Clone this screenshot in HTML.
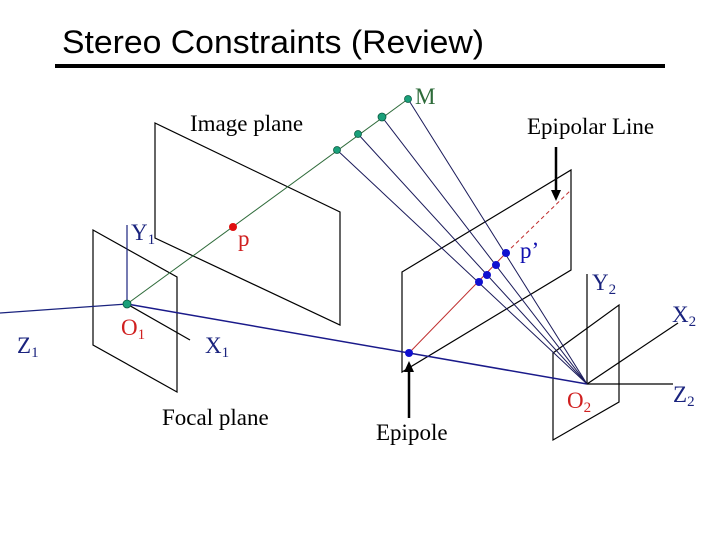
<!DOCTYPE html>
<html><head><meta charset="utf-8"><style>html,body{margin:0;padding:0;background:#fff}svg{display:block}</style></head>
<body>
<svg width="720" height="540" xmlns="http://www.w3.org/2000/svg" font-family="Liberation Serif, serif">
<rect width="720" height="540" fill="#fff"/>
<text x="62" y="53" font-family="Liberation Sans, sans-serif" font-size="32" textLength="422" lengthAdjust="spacingAndGlyphs">Stereo Constraints (Review)</text>
<rect x="55" y="64" width="610" height="4" fill="#000"/>
<g fill="none" stroke="#000" stroke-width="1.2">
<polygon points="155,123 340,212 340,325 155,238"/>
<polygon points="93,230 177,277 177,392 93,345"/>
<polygon points="402,272 571,170 571,270 402,372"/>
<polygon points="553,353 619,305 619,402 553,440"/>
<line x1="587" y1="274" x2="587" y2="384"/>
<line x1="587" y1="384" x2="678" y2="323"/>
<line x1="587" y1="384" x2="673" y2="384"/>
<line x1="127" y1="304" x2="190" y2="340"/>
</g>
<line x1="127" y1="225" x2="127" y2="304" stroke="#1a237e" stroke-width="1.2"/>
<line x1="0" y1="313" x2="127" y2="304" stroke="#1a237e" stroke-width="1.2"/>
<line x1="127" y1="304" x2="587" y2="384" stroke="#1a1a8a" stroke-width="1.5"/>
<line x1="127" y1="304" x2="408" y2="99" stroke="#2e6b3a" stroke-width="1"/>
<g stroke="#1a1a5a" stroke-width="1">
<line x1="408" y1="99" x2="587" y2="384"/>
<line x1="382" y1="117" x2="587" y2="384"/>
<line x1="358" y1="134" x2="587" y2="384"/>
<line x1="337" y1="150" x2="587" y2="384"/>
</g>
<line x1="409" y1="353" x2="506" y2="253" stroke="#c03030" stroke-width="1"/>
<line x1="506" y1="253" x2="571" y2="190" stroke="#c03030" stroke-width="1" stroke-dasharray="4,3"/>
<g fill="#1aa07a" stroke="#0a5a40" stroke-width="0.8">
<circle cx="408" cy="99" r="3.5"/><circle cx="382" cy="117" r="4"/><circle cx="358" cy="134" r="3.5"/><circle cx="337" cy="150" r="3.5"/><circle cx="127" cy="304" r="4"/>
</g>
<circle cx="233" cy="227" r="4" fill="#e01010"/>
<g fill="#1010d0"><circle cx="409" cy="353" r="4"/><circle cx="479" cy="282" r="4"/><circle cx="487" cy="275" r="4"/><circle cx="496" cy="265" r="4"/><circle cx="506" cy="253" r="4"/></g>
<line x1="556" y1="147" x2="556" y2="192" stroke="#000" stroke-width="2.5"/>
<polygon points="551,190 561,190 556,201" fill="#000"/>
<line x1="409" y1="418" x2="409" y2="370" stroke="#000" stroke-width="2.5"/>
<polygon points="404,372 414,372 409,361" fill="#000"/>
<g font-size="23">
<text x="415" y="104" fill="#2e6b3a">M</text>
<text x="190" y="131">Image plane</text>
<text x="527" y="134">Epipolar Line</text>
<text x="131" y="240" fill="#1a237e">Y<tspan font-size="15" dy="4">1</tspan></text>
<text x="238" y="246" fill="#d02020">p</text>
<text x="520" y="258" fill="#1010b0">p’</text>
<text x="592" y="290" fill="#1a237e">Y<tspan font-size="15" dy="4">2</tspan></text>
<text x="672" y="322" fill="#1a237e">X<tspan font-size="15" dy="4">2</tspan></text>
<text x="17" y="353" fill="#1a237e">Z<tspan font-size="15" dy="4">1</tspan></text>
<text x="121" y="335" fill="#d02020">O<tspan font-size="15" dy="4">1</tspan></text>
<text x="205" y="353" fill="#1a237e">X<tspan font-size="15" dy="4">1</tspan></text>
<text x="567" y="408" fill="#d02020">O<tspan font-size="15" dy="4">2</tspan></text>
<text x="673" y="402" fill="#1a237e">Z<tspan font-size="15" dy="4">2</tspan></text>
<text x="162" y="425">Focal plane</text>
<text x="376" y="440">Epipole</text>
</g>
</svg>
</body></html>
